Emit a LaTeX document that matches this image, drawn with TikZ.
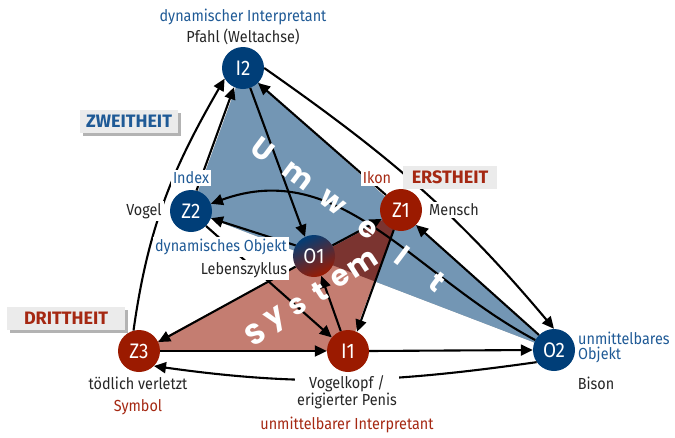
\documentclass[tikz,border=0pt]{standalone}
\usepackage{fontspec}
\setmainfont[FakeStretch=0.9]{Fira Sans}
\newfontfamily\thfont{Fira Sans}
\newfontfamily\letterfont{Poppins}
\usetikzlibrary{arrows.meta,shadows,calc}

\definecolor{nblue}{HTML}{003E78}
\definecolor{nred}{HTML}{9B1A00}
\definecolor{tblue}{HTML}{1F5A96}
\definecolor{tred}{HTML}{A52812}
\definecolor{triblue}{HTML}{7396B4}
\definecolor{trired}{HTML}{C47D71}
\definecolor{overlapc}{HTML}{7B3430}
\definecolor{boxgray}{HTML}{EBEBEB}
\definecolor{txt}{HTML}{262626}

\begin{document}
\begin{tikzpicture}[x=1pt,y=1pt,
  sig/.style={circle, minimum size=42pt, inner sep=0pt, text=white, font=\fontsize{21}{21}\selectfont},
  bluenode/.style={sig, fill=nblue},
  rednode/.style={sig, fill=nred},
  arr/.style={line width=2.1pt, -{Triangle[length=12pt,width=11pt]}},
  lbl/.style={fill=white, inner sep=2pt, text=txt, font=\fontsize{16}{15}\selectfont},
  bl/.style={lbl, text=tblue},
  rl/.style={lbl, text=tred},
  thbox/.style={fill=boxgray, inner sep=0pt, minimum height=23pt, font=\thfont\bfseries\fontsize{18}{18}\selectfont},
  thshadow/.style={drop shadow={shadow xshift=3pt,shadow yshift=-3pt,fill=black!50,opacity=0.6}},
  bigletter/.style={text=white, inner sep=0pt, font=\letterfont\bfseries\fontsize{29}{29}\selectfont},
]
\useasboundingbox (0,0) rectangle (675,-437);

\coordinate (cI2) at (243,-68);
\coordinate (cZ2) at (191,-211);
\coordinate (cZ1) at (401,-210);
\coordinate (cO1) at (314,-256);
\coordinate (cZ3) at (139,-351);
\coordinate (cI1) at (348,-351);
\coordinate (cO2) at (554,-350);

% triangles
\fill[black!35, shift={(1.5,-2)}] (cI2) -- (cZ2) -- (cO2) -- cycle;
\fill[triblue] (cI2) -- (cZ2) -- (cO2) -- cycle;
\fill[trired] (cZ3) -- (cZ1) -- (cI1) -- cycle;
\begin{scope}
  \clip (cI2) -- (cZ2) -- (cO2) -- cycle;
  \fill[overlapc] (cZ3) -- (cZ1) -- (cI1) -- cycle;
\end{scope}

% nodes
\node[bluenode] (I2) at (cI2) {I2};
\node[bluenode] (Z2) at (cZ2) {Z2};
\node[rednode] (Z1) at (cZ1) {Z1};
\node[sig, top color=nblue, bottom color=nred, shading angle=25] (O1) at (cO1) {O1};
\node[rednode] (Z3) at (cZ3) {Z3};
\node[rednode] (I1) at (cI1) {I1};
\node[bluenode] (O2) at (cO2) {O2};

% arrows
\draw[arr] (Z3.105) to[out=82,in=240] (I2.210);
\draw[arr] (Z2.75) -- (I2.245);
\draw[arr] (Z1.north west) -- (I2.south east);
\draw[arr] (I2.-70) -- (O1.115);
\draw[arr] (I2.east) to[out=-35,in=130] (O2.north);
\draw[arr] (O2.152) to[out=152,in=20] (Z2.20);
\draw[arr] (O1.150) -- (Z2.-20);
\draw[arr] (O1.30) -- (Z1.205);
\draw[arr] (Z2.south east) -- (I1.140);
\draw[arr] (I1.110) -- (O1.-70);
\draw[arr] (Z1.-110) -- (I1.65);
\draw[arr] (O1.210) -- (Z3.25);
\draw[arr] (Z3.east) -- (I1.west);
\draw[arr] (I1.east) -- (O2.west);
\draw[arr] (O2.215) to[out=188,in=-8] (Z3.-45);
\draw[arr] (O2.135) -- (Z1.-45);

% big letters
\foreach \c [count=\i from 0] in {U,m,w,e,l,t}
  \node[bigletter, rotate=-37] (uw\i) at ({263+34.8*\i},{-150-26.4*\i}) {\c};
\foreach \c [count=\i from 0] in {S,y,s,t,e,m}
  \node[bigletter, rotate=33] (sy\i) at ({255+21.5*\i},{-334+14*\i}) {\c};

% labels
\node[bl] (lI2a) at (243,-17) {dynamischer Interpretant};
\node[lbl] (lI2b) at (243,-37) {Pfahl (Weltachse)};
\node[thbox, thshadow, text=tblue, minimum width=98pt] (zw) at (129,-121) {ZWEITHEIT};
\node[bl] (lZ2a) at (191,-178) {Index};
\node[lbl] (lZ2b) at (144,-211) {Vogel};
\node[bl] (lO1a) at (221,-247) {dynamisches Objekt};
\node[lbl] (lO1b) at (244,-270) {Lebenszyklus};
\node[rl] (lZ1a) at (377,-178) {Ikon};
\node[thbox, text=tred, minimum width=94pt] (er) at (450,-177.5) {ERSTHEIT};
\node[lbl] (lZ1b) at (454,-210) {Mensch};
\node[thbox, thshadow, text=tred, minimum width=118pt] (dr) at (66,-318.5) {DRITTHEIT};
\node[lbl] (lZ3a) at (138,-383) {tödlich verletzt};
\node[rl] (lZ3b) at (138,-407) {Symbol};
\node[lbl, align=center] (lI1a) at (347,-392) {Vogelkopf /\\erigierter Penis};
\node[rl] (lI1b) at (347,-425) {unmittelbarer Interpretant};
\node[bl, align=left, anchor=west] (lO2a) at (576,-347) {unmittelbares\\Objekt};
\node[lbl] (lO2b) at (596,-383) {Bison};
\end{tikzpicture}
\end{document}
